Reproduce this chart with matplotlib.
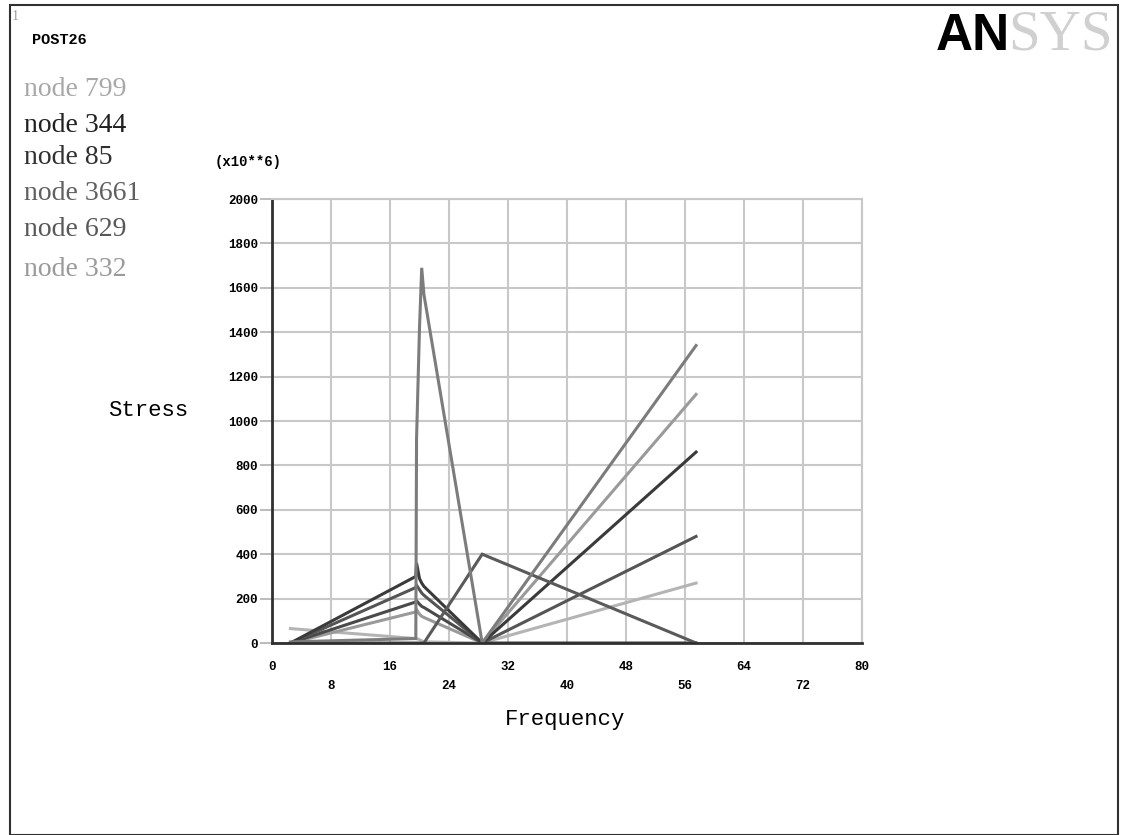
import matplotlib
matplotlib.use("Agg")
import matplotlib.pyplot as plt
from matplotlib.patches import Rectangle

# frequency points (clustered near the resonance at ~20)
freq = [2.5, 19.5, 19.6, 20.0, 20.3, 20.6, 28.5, 57.5]

# stress (x10**6) for each curve
s_peak = [5, 20, 920, 1420, 1690, 1570, 0, 1340]
s_a = [0, 300, 360, 290, 270, 255, 0, 860]
s_b = [0, 250, 260, 240, 225, 215, 0, 480]
s_c = [0, 185, 190, 175, 165, 160, 0, 0]
s_d = [0, 140, 150, 130, 120, 115, 0, 1120]
s_e = [65, 20, 20, 15, 10, 5, 0, 270]
s_f = [0, 0, 0, 0, 0, 0, 400, 0]

series = [s_e, s_d, s_c, s_b, s_a, s_f, s_peak]
colors = ["#b4b4b4", "#9a9a9a", "#4a4a4a", "#555555", "#3a3a3a", "#5a5a5a", "#7c7c7c"]

node_labels = ["node 799", "node 344", "node 85", "node 3661", "node 629", "node 332"]
node_colors = ["#a8a8a8", "#202020", "#303030", "#606060", "#585858", "#9a9a9a"]
node_y = [90, 126, 158, 193, 230, 270]

xticks = [0, 8, 16, 24, 32, 40, 48, 56, 64, 72, 80]
yticks = [0, 200, 400, 600, 800, 1000, 1200, 1400, 1600, 1800, 2000]

W, H = 1121, 835
fig = plt.figure(figsize=(W / 100, H / 100), dpi=100)
fig.patch.set_facecolor("white")

# outer frame
fig.patches.append(Rectangle((10 / W, 0), (W - 13) / W, 1 - 5 / H, transform=fig.transFigure,
                             fill=False, edgecolor="#303030", lw=1.5))

ax = fig.add_axes([272 / W, 1 - 643 / H, 590 / W, 444 / H])
for s, c in zip(series, colors):
    ax.plot(freq, s, color=c, lw=2.2, solid_joinstyle="miter")

ax.set_xlim(0, 80)
ax.set_ylim(0, 2000)
ax.set_xticks(xticks)
ax.set_yticks(yticks)
ax.set_xticklabels([str(v) if i % 2 == 0 else "\n" + str(v) for i, v in enumerate(xticks)],
                   family="Liberation Mono", fontweight="bold", fontsize=9, linespacing=1.75)
ax.set_yticklabels([str(v) for v in yticks], family="Liberation Mono", fontweight="bold", fontsize=9)
ax.grid(True, color="#c8c8c8", lw=1.5)
ax.set_axisbelow(True)
ax.tick_params(axis="y", length=9, color="#b0b0b0", width=1.2, pad=1)
ax.tick_params(axis="x", length=0, pad=13)
for side in ["top", "right"]:
    ax.spines[side].set_color("#c8c8c8")
    ax.spines[side].set_linewidth(1.5)
for side in ["left", "bottom"]:
    ax.spines[side].set_color("#303030")
    ax.spines[side].set_linewidth(2)

fig.text(565 / W, 1 - 720 / H, "Frequency", family="Liberation Mono", fontsize=16,
         ha="center", va="center")
fig.text(108 / W, 1 - 410 / H, "Stress", family="Liberation Mono", fontsize=16, va="center")
fig.text(215 / W, 1 - 162 / H, "(x10**6)", family="Liberation Mono", fontweight="bold", fontsize=10, va="center")

fig.text(12 / W, 1 - 16 / H, "1", family="Liberation Serif", fontsize=10, color="#a0a0a0", va="center")
fig.text(32 / W, 1 - 40 / H, "POST26", family="Liberation Mono", fontweight="bold", fontsize=11, va="center")

for lab, c, y in zip(node_labels, node_colors, node_y):
    fig.text(24 / W, 1 - y / H, lab, family="Liberation Serif", fontsize=20, color=c, va="center")

# ANSYS logo
fig.text(1010 / W, 1 - 36 / H, "AN", family="Liberation Sans", fontweight="bold", fontsize=37,
         color="black", ha="right", va="center")
fig.text(1008 / W, 1 - 36 / H, "SYS", family="Liberation Serif", fontsize=41,
         color="#d0d0d0", ha="left", va="center")

fig.savefig("out.png", dpi=100)
